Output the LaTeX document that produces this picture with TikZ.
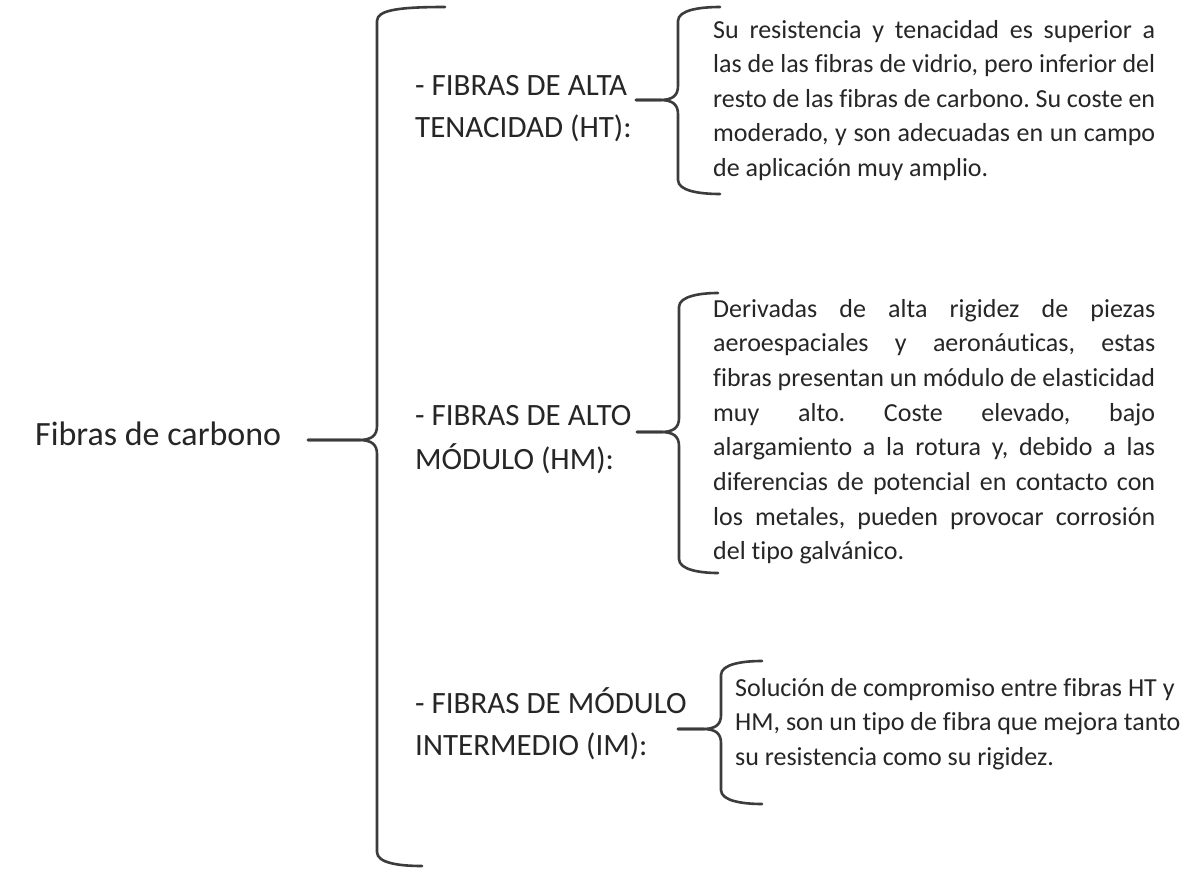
\documentclass[tikz,border=0pt]{standalone}
\usepackage{fontspec}
\setmainfont{Carlito}[Ligatures=NoCommon]
\frenchspacing
\definecolor{ink}{HTML}{262626}
\definecolor{brc}{HTML}{3C3C3C}
% #1 x of vertical, #2 y top, #3 y tip, #4 y bottom, #5 x tip, #6 x top arm end, #7 x bottom arm end
\newcommand\wbrace[7]{%
  \draw[bracestyle] (#6,#2) .. controls (#1+22,#2) and (#1,#2+3) .. (#1,#2+14)
     -- (#1,#3-14) .. controls (#1,#3-4) and (#1-6,#3) .. (#1-18,#3) -- (#5,#3);
  \draw[bracestyle] (#5,#3) -- (#1-18,#3) .. controls (#1-6,#3) and (#1,#3+4) .. (#1,#3+14)
     -- (#1,#4-14) .. controls (#1,#4-3) and (#1+22,#4) .. (#7,#4);
}
\begin{document}
\begin{tikzpicture}[x=1pt,y=-1pt,
  bracestyle/.style={draw=brc,line width=2.6pt,line cap=round,line join=round},
  desc/.style={anchor=base west,inner sep=0pt,text=ink,font=\fontsize{26}{34}\selectfont},
  lbl/.style={anchor=base west,inner sep=0pt,text=ink,font=\fontsize{31}{40}\selectfont},
  ttl/.style={anchor=base west,inner sep=0pt,text=ink,font=\fontsize{34}{40}\selectfont}]
\useasboundingbox[fill=white] (0,0) rectangle (1187,873);

% title
\node[ttl] (title) at (35,445) {Fibras de carbono};

% braces
\wbrace{377}{7}{440}{866}{308}{445}{422}
\wbrace{678}{7}{100}{194}{636}{720}{720}
\wbrace{679}{293}{432}{573}{637}{718}{718}
\wbrace{721}{661}{729}{804}{678}{762}{762}

% labels
\node[lbl] (ht1) at (415,95) {- FIBRAS DE ALTA};
\node[lbl] (ht2) at (415,137) {TENACIDAD (HT):};
\node[lbl] (hm1) at (415,425) {- FIBRAS DE ALTO};
\node[lbl] (hm2) at (415,469) {MÓDULO (HM):};
\node[lbl] (im1) at (415,713) {- FIBRAS DE MÓDULO};
\node[lbl] (im2) at (415,755) {INTERMEDIO (IM):};

% HT description
\node[desc] (dht1) at (713,38.0) {\makebox[442pt][s]{Su resistencia y tenacidad es superior a}};
\node[desc] (dht2) at (713,72.6) {\makebox[442pt][s]{las de las fibras de vidrio, pero inferior del}};
\node[desc] (dht3) at (713,107.2) {\makebox[442pt][s]{resto de las fibras de carbono. Su coste en}};
\node[desc] (dht4) at (713,141.8) {\makebox[442pt][s]{moderado, y son adecuadas en un campo}};
\node[desc] (dht5) at (713,176.4) {de aplicación muy amplio.};

% HM description
\node[desc] (dhm1) at (713,317.0) {\makebox[442pt][s]{Derivadas de alta rigidez de piezas}};
\node[desc] (dhm2) at (713,351.7) {\makebox[442pt][s]{aeroespaciales y aeronáuticas, estas}};
\node[desc] (dhm3) at (713,386.4) {\makebox[442pt][s]{fibras presentan un módulo de elasticidad}};
\node[desc] (dhm4) at (713,421.1) {\makebox[442pt][s]{muy alto. Coste elevado, bajo}};
\node[desc] (dhm5) at (713,455.8) {\makebox[442pt][s]{alargamiento a la rotura y, debido a las}};
\node[desc] (dhm6) at (713,490.5) {\makebox[442pt][s]{diferencias de potencial en contacto con}};
\node[desc] (dhm7) at (713,525.2) {\makebox[442pt][s]{los metales, pueden provocar corrosión}};
\node[desc] (dhm8) at (713,559.9) {del tipo galvánico.};

% IM description
\node[desc] (dim1) at (735,696) {Solución de compromiso entre fibras HT y};
\node[desc] (dim2) at (735,730.5) {HM, son un tipo de fibra que mejora tanto};
\node[desc] (dim3) at (735,765) {su resistencia como su rigidez.};
\end{tikzpicture}
\end{document}
